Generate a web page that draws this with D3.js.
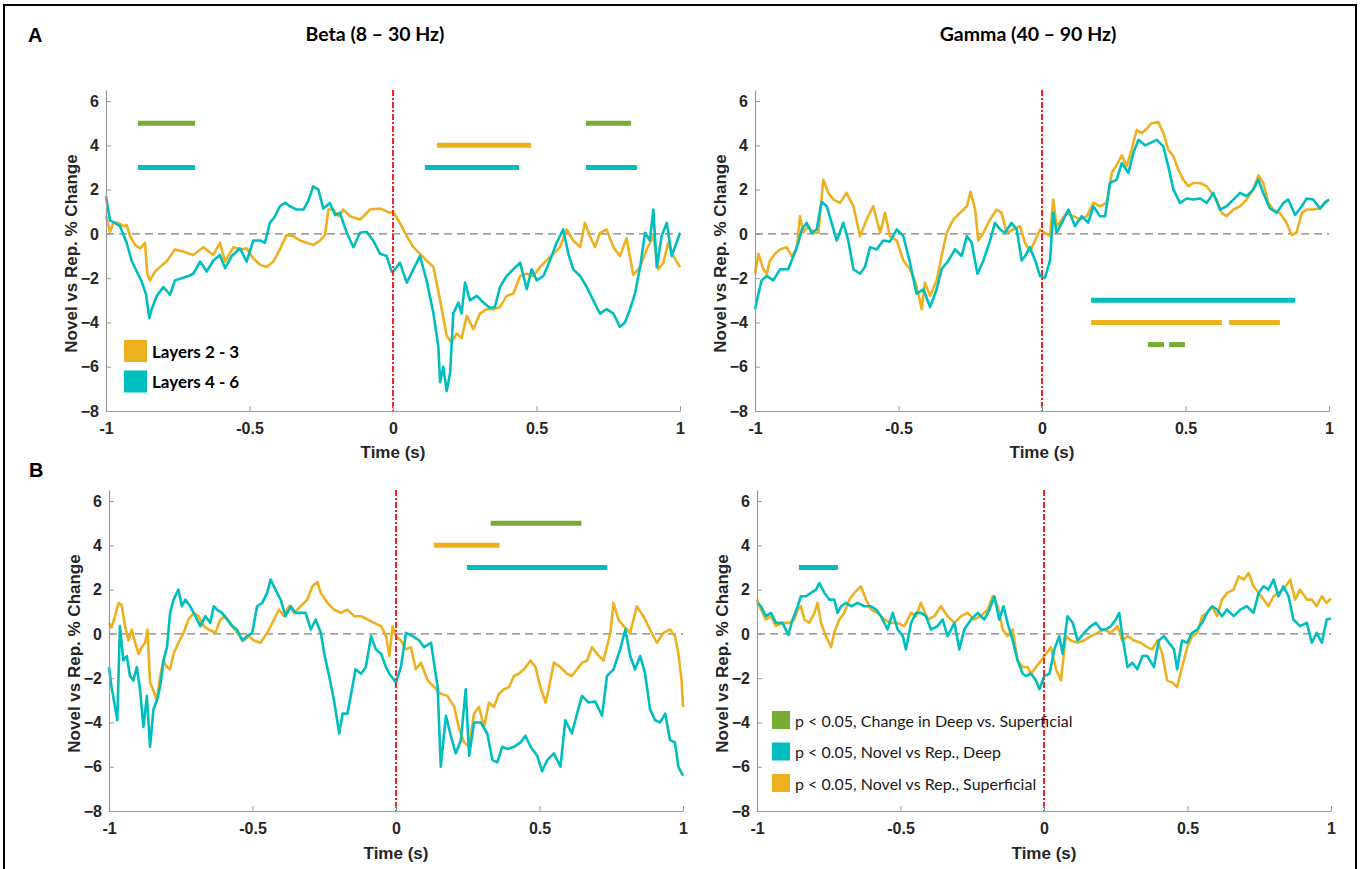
<!DOCTYPE html>
<html>
<head>
<meta charset="utf-8">
<script src="https://cdn.jsdelivr.net/npm/d3@7"></script>
<style>
  html, body { margin: 0; padding: 0; background: #fff; }
  svg { display: block; }
</style>
</head>
<body>
<svg id="fig" width="1363" height="869"></svg>
<script>
// ---- data: [time (s), % change] ----
const timeTicks = [-1, -0.5, 0, 0.5, 1];
const timeTickLabels = ["-1", "-0.5", "0", "0.5", "1"];
const valueTicks = [-8, -6, -4, -2, 0, 2, 4, 6];

const betaA_sup = [[-1.0,0.8],[-0.986,0.1],[-0.974,0.5],[-0.957,0.5],[-0.94,0.35],[-0.928,0.4],[-0.916,-0.1],[-0.899,-0.5],[-0.881,-0.65],[-0.864,-0.4],[-0.856,-1.8],[-0.847,-2.1],[-0.829,-1.7],[-0.812,-1.5],[-0.789,-1.25],[-0.76,-0.7],[-0.731,-0.8],[-0.696,-0.95],[-0.661,-0.6],[-0.626,-0.95],[-0.603,-0.4],[-0.585,-1.25],[-0.556,-0.6],[-0.527,-0.7],[-0.51,-0.65],[-0.487,-1.1],[-0.463,-1.4],[-0.44,-1.5],[-0.417,-1.25],[-0.394,-0.7],[-0.371,-0.05],[-0.347,-0.1],[-0.324,-0.3],[-0.301,-0.4],[-0.278,-0.5],[-0.254,-0.3],[-0.237,-0.05],[-0.225,1.1],[-0.208,1.1],[-0.19,0.8],[-0.173,1.1],[-0.15,0.8],[-0.115,0.65],[-0.08,1.1],[-0.045,1.15],[-0.01,0.95],[0,1.0],[0.024,0.5],[0.048,-0.1],[0.071,-0.6],[0.094,-0.9],[0.117,-1.2],[0.141,-1.5],[0.164,-3.0],[0.187,-4.6],[0.204,-4.9],[0.222,-4.5],[0.239,-4.7],[0.257,-3.7],[0.28,-4.3],[0.303,-3.6],[0.326,-3.4],[0.35,-3.4],[0.373,-3.3],[0.396,-2.8],[0.419,-2.7],[0.443,-1.9],[0.466,-1.8],[0.489,-1.9],[0.512,-1.5],[0.535,-1.2],[0.559,-0.9],[0.582,-0.6],[0.605,0.2],[0.628,-0.3],[0.652,-0.6],[0.669,0.5],[0.686,-0.1],[0.704,-0.6],[0.721,0.05],[0.744,0.2],[0.768,-0.6],[0.791,-1.0],[0.814,-0.2],[0.837,-1.85],[0.861,-1.5],[0.884,-0.7],[0.907,-0.1],[0.925,-1.6],[0.942,-1.3],[0.959,-0.4],[0.977,-1.0],[1.0,-1.5]];

const betaA_deep = [[-1.0,1.7],[-0.986,0.6],[-0.969,0.5],[-0.951,0.35],[-0.928,-0.4],[-0.911,-1.2],[-0.893,-1.7],[-0.876,-2.15],[-0.861,-2.7],[-0.849,-3.8],[-0.841,-3.4],[-0.823,-2.8],[-0.8,-2.4],[-0.777,-2.75],[-0.76,-2.1],[-0.736,-2.0],[-0.713,-1.9],[-0.696,-1.8],[-0.672,-1.25],[-0.649,-1.7],[-0.626,-1.2],[-0.603,-0.95],[-0.585,-1.55],[-0.562,-1.0],[-0.533,-0.65],[-0.51,-1.25],[-0.487,-0.3],[-0.463,-0.3],[-0.446,-0.4],[-0.429,0.5],[-0.411,0.8],[-0.394,1.25],[-0.376,1.4],[-0.359,1.25],[-0.336,1.1],[-0.312,1.1],[-0.295,1.5],[-0.278,2.15],[-0.26,2.0],[-0.243,1.15],[-0.22,1.4],[-0.202,0.85],[-0.185,0.95],[-0.161,0.05],[-0.138,-0.6],[-0.115,0.05],[-0.092,0.1],[-0.069,-0.3],[-0.045,-0.9],[-0.022,-1.0],[-0.005,-1.7],[0.0,-1.7],[0.024,-1.3],[0.048,-2.2],[0.071,-1.6],[0.094,-1.0],[0.117,-2.1],[0.141,-3.6],[0.158,-5.1],[0.164,-6.7],[0.175,-6.0],[0.187,-7.1],[0.199,-6.3],[0.21,-3.6],[0.228,-3.1],[0.239,-3.6],[0.251,-2.2],[0.268,-3.0],[0.292,-2.8],[0.315,-3.1],[0.338,-3.35],[0.355,-3.3],[0.373,-2.4],[0.396,-1.9],[0.419,-1.6],[0.443,-1.3],[0.466,-2.5],[0.483,-1.6],[0.501,-2.1],[0.524,-1.9],[0.547,-1.2],[0.57,-0.4],[0.593,0.2],[0.611,-0.9],[0.628,-1.6],[0.652,-1.9],[0.675,-2.4],[0.698,-3.0],[0.721,-3.6],[0.744,-3.4],[0.768,-3.6],[0.791,-4.2],[0.808,-4.0],[0.826,-3.4],[0.843,-2.7],[0.861,-1.5],[0.878,0.05],[0.895,-0.3],[0.907,1.1],[0.919,-1.5],[0.936,-0.1],[0.954,0.5],[0.971,-1.0],[0.988,-0.4],[1.0,0.05]];

const gammaA_sup = [[-1.0,-1.8],[-0.988,-0.9],[-0.971,-1.6],[-0.959,-1.8],[-0.948,-1.2],[-0.93,-0.9],[-0.913,-0.7],[-0.89,-0.6],[-0.872,-1.0],[-0.855,-0.7],[-0.843,0.8],[-0.832,0.05],[-0.814,0.35],[-0.797,0.05],[-0.779,0.05],[-0.762,2.45],[-0.744,1.85],[-0.727,1.55],[-0.704,1.4],[-0.681,1.85],[-0.657,1.25],[-0.634,-0.1],[-0.611,0.65],[-0.588,1.25],[-0.564,0.05],[-0.547,0.95],[-0.53,-0.1],[-0.506,-0.3],[-0.483,-1.2],[-0.46,-1.6],[-0.443,-2.1],[-0.431,-2.7],[-0.419,-3.4],[-0.408,-2.2],[-0.39,-2.8],[-0.367,-2.1],[-0.35,-1.0],[-0.332,0.05],[-0.309,0.65],[-0.286,0.95],[-0.262,1.25],[-0.249,1.9],[-0.233,1.1],[-0.222,-0.3],[-0.204,0.05],[-0.181,0.65],[-0.158,1.1],[-0.141,0.95],[-0.123,0.05],[-0.1,0.2],[-0.077,0.35],[-0.059,-0.4],[-0.042,-0.8],[-0.024,-0.3],[-0.007,0.2],[0.01,0.05],[0.028,-0.1],[0.039,1.55],[0.051,0.35],[0.069,0.65],[0.086,0.95],[0.109,0.8],[0.132,0.65],[0.156,0.8],[0.179,1.4],[0.202,1.25],[0.225,1.4],[0.243,2.75],[0.26,3.1],[0.278,3.55],[0.295,3.05],[0.312,3.8],[0.33,4.7],[0.347,4.55],[0.365,4.75],[0.382,5.0],[0.405,5.05],[0.423,4.55],[0.44,3.8],[0.458,3.5],[0.475,2.9],[0.492,2.45],[0.51,2.15],[0.527,2.3],[0.551,2.3],[0.574,2.15],[0.591,1.85],[0.609,1.55],[0.626,0.95],[0.643,0.8],[0.667,1.1],[0.69,1.25],[0.713,1.55],[0.736,2.0],[0.754,2.65],[0.771,2.3],[0.789,1.4],[0.806,1.1],[0.829,0.95],[0.852,0.5],[0.87,-0.05],[0.887,0.05],[0.905,0.95],[0.922,1.1],[0.945,1.1],[0.969,1.15],[0.986,1.45],[1.0,1.55]];

const gammaA_deep = [[-1.0,-3.4],[-0.988,-2.7],[-0.977,-2.1],[-0.959,-1.9],[-0.936,-2.1],[-0.913,-1.6],[-0.884,-1.6],[-0.866,-1.0],[-0.849,-0.4],[-0.837,0.2],[-0.82,0.5],[-0.803,0.05],[-0.785,0.2],[-0.768,1.45],[-0.75,1.25],[-0.733,0.5],[-0.715,-0.3],[-0.692,0.5],[-0.675,-0.3],[-0.657,-1.6],[-0.634,-1.8],[-0.617,-1.5],[-0.599,-0.6],[-0.576,-0.7],[-0.553,-0.3],[-0.53,-0.35],[-0.506,0.2],[-0.483,-0.1],[-0.46,-1.3],[-0.437,-2.7],[-0.413,-2.5],[-0.39,-3.3],[-0.367,-2.5],[-0.35,-1.6],[-0.326,-1.2],[-0.303,-0.7],[-0.28,-1.0],[-0.262,-0.1],[-0.245,-0.4],[-0.225,-1.8],[-0.204,-1.2],[-0.181,-0.3],[-0.164,0.5],[-0.146,0.2],[-0.129,0.05],[-0.106,0.5],[-0.088,0.2],[-0.071,-1.2],[-0.059,-1.0],[-0.042,-0.6],[-0.024,-1.2],[-0.007,-1.9],[0.01,-2.0],[0.028,-1.2],[0.039,0.95],[0.051,0.05],[0.069,0.5],[0.092,1.1],[0.115,0.35],[0.138,0.8],[0.161,0.5],[0.179,1.25],[0.202,0.8],[0.22,0.8],[0.237,2.3],[0.26,2.45],[0.278,3.2],[0.301,2.75],[0.318,3.65],[0.336,4.25],[0.359,4.0],[0.376,4.1],[0.4,4.25],[0.423,3.95],[0.44,3.05],[0.458,2.0],[0.481,1.4],[0.504,1.6],[0.527,1.55],[0.551,1.6],[0.574,1.4],[0.597,1.85],[0.62,1.1],[0.643,1.25],[0.667,1.55],[0.69,1.85],[0.713,1.7],[0.736,2.0],[0.754,2.45],[0.771,1.85],[0.794,1.15],[0.818,0.95],[0.841,1.4],[0.858,1.55],[0.882,0.85],[0.905,1.25],[0.922,1.6],[0.945,1.55],[0.969,1.15],[0.986,1.4],[1.0,1.55]];

const betaB_sup = [[-1.0,0.5],[-0.991,0.3],[-0.979,0.8],[-0.967,1.4],[-0.956,1.3],[-0.944,0.35],[-0.932,-0.3],[-0.921,0.2],[-0.909,-0.4],[-0.897,-0.9],[-0.886,-0.6],[-0.874,-0.4],[-0.866,0.2],[-0.857,-2.2],[-0.847,-2.5],[-0.833,-3.0],[-0.822,-1.9],[-0.81,-1.2],[-0.798,-1.5],[-0.787,-1.6],[-0.775,-0.9],[-0.758,-0.4],[-0.74,0.05],[-0.723,0.65],[-0.705,0.95],[-0.688,0.8],[-0.67,0.35],[-0.653,0.2],[-0.629,0.05],[-0.612,0.65],[-0.594,0.8],[-0.577,0.5],[-0.554,0.05],[-0.53,-0.3],[-0.513,-0.1],[-0.495,-0.3],[-0.472,-0.4],[-0.449,0.05],[-0.425,0.65],[-0.408,1.1],[-0.39,0.8],[-0.373,1.25],[-0.355,0.95],[-0.332,1.25],[-0.309,1.55],[-0.291,2.15],[-0.274,2.35],[-0.262,1.85],[-0.239,1.4],[-0.216,1.1],[-0.192,0.95],[-0.169,1.1],[-0.146,0.8],[-0.122,0.8],[-0.099,0.65],[-0.076,0.5],[-0.052,0.35],[-0.035,-0.1],[-0.023,-1.0],[-0.012,0.35],[0,-0.1],[0.017,-0.3],[0.035,-0.7],[0.052,-0.6],[0.069,-1.6],[0.087,-1.3],[0.11,-2.1],[0.133,-2.4],[0.156,-2.7],[0.179,-2.8],[0.203,-3.3],[0.22,-4.3],[0.237,-4.9],[0.255,-5.1],[0.272,-3.6],[0.289,-3.3],[0.307,-4.2],[0.324,-3.1],[0.341,-3.3],[0.359,-2.7],[0.376,-2.5],[0.394,-2.4],[0.411,-1.9],[0.428,-1.8],[0.446,-1.6],[0.469,-1.2],[0.486,-1.5],[0.503,-2.4],[0.521,-3.1],[0.532,-2.5],[0.55,-1.3],[0.573,-1.5],[0.596,-1.8],[0.613,-1.9],[0.631,-1.6],[0.648,-1.3],[0.666,-1.2],[0.683,-0.6],[0.7,-0.9],[0.723,-1.2],[0.747,0.05],[0.758,1.4],[0.775,0.65],[0.793,0.35],[0.816,0.05],[0.839,1.25],[0.862,0.8],[0.885,0.2],[0.909,-0.4],[0.932,0.05],[0.955,0.2],[0.972,-0.1],[0.984,-0.9],[0.995,-2.1],[1.0,-3.3]];

const betaB_deep = [[-1.0,-1.5],[-0.991,-2.4],[-0.979,-3.3],[-0.971,-3.9],[-0.962,0.35],[-0.95,-1.2],[-0.938,-1.0],[-0.927,-1.9],[-0.915,-2.1],[-0.903,-1.5],[-0.892,-2.5],[-0.88,-4.2],[-0.868,-2.8],[-0.857,-5.1],[-0.845,-3.4],[-0.833,-3.0],[-0.822,-2.4],[-0.81,-1.2],[-0.798,-0.6],[-0.787,0.95],[-0.775,1.55],[-0.758,2.0],[-0.746,1.25],[-0.734,1.55],[-0.717,1.25],[-0.705,0.95],[-0.693,0.65],[-0.682,0.35],[-0.664,0.8],[-0.647,0.5],[-0.635,1.25],[-0.624,1.1],[-0.606,0.95],[-0.589,0.65],[-0.571,0.35],[-0.554,0.2],[-0.536,-0.3],[-0.519,-0.1],[-0.501,0.05],[-0.484,1.25],[-0.466,1.4],[-0.449,1.85],[-0.437,2.45],[-0.42,2.0],[-0.402,1.55],[-0.385,0.8],[-0.367,1.25],[-0.35,0.95],[-0.332,0.95],[-0.315,0.95],[-0.297,0.2],[-0.28,0.65],[-0.262,0.05],[-0.25,-0.9],[-0.233,-1.9],[-0.216,-3.0],[-0.198,-4.5],[-0.186,-3.6],[-0.169,-3.6],[-0.152,-2.4],[-0.141,-1.6],[-0.122,-1.8],[-0.105,-1.5],[-0.087,-0.1],[-0.07,-0.7],[-0.052,-0.9],[-0.035,-1.5],[-0.023,-1.8],[-0.006,-2.1],[0,-2.2],[0.017,-1.5],[0.035,0.05],[0.058,-0.1],[0.081,-0.3],[0.098,-0.6],[0.122,-0.4],[0.145,-2.4],[0.156,-6.0],[0.174,-3.7],[0.191,-4.6],[0.208,-5.4],[0.226,-4.8],[0.243,-2.5],[0.255,-5.5],[0.272,-4.0],[0.295,-4.0],[0.318,-4.5],[0.336,-5.7],[0.353,-5.8],[0.37,-5.1],[0.388,-5.2],[0.411,-5.1],[0.434,-4.9],[0.451,-4.6],[0.469,-5.1],[0.492,-5.5],[0.509,-6.2],[0.527,-5.7],[0.55,-5.4],[0.573,-6.0],[0.59,-3.9],[0.613,-4.5],[0.631,-3.6],[0.648,-2.8],[0.671,-3.1],[0.694,-3.05],[0.718,-3.7],[0.735,-1.9],[0.758,-1.6],[0.781,-0.7],[0.799,0.2],[0.816,-1.0],[0.833,-1.6],[0.851,-1.0],[0.868,-1.8],[0.885,-3.4],[0.903,-3.9],[0.92,-4.0],[0.938,-3.6],[0.955,-4.8],[0.972,-4.9],[0.984,-6.0],[1.0,-6.4]];

const gammaB_sup = [[-1.0,1.55],[-0.986,1.1],[-0.969,0.65],[-0.951,0.8],[-0.934,0.35],[-0.911,0.5],[-0.887,0.5],[-0.87,0.65],[-0.858,1.1],[-0.847,1.25],[-0.835,0.65],[-0.818,0.5],[-0.8,0.95],[-0.789,1.4],[-0.777,0.5],[-0.76,-0.1],[-0.742,-0.6],[-0.731,0.05],[-0.713,0.65],[-0.696,0.95],[-0.678,1.55],[-0.661,1.85],[-0.638,2.15],[-0.62,1.55],[-0.603,1.1],[-0.58,0.95],[-0.556,0.65],[-0.533,0.5],[-0.51,0.5],[-0.487,0.35],[-0.463,0.95],[-0.446,0.8],[-0.429,1.4],[-0.405,0.65],[-0.382,0.8],[-0.359,1.25],[-0.336,0.8],[-0.312,0.5],[-0.289,0.8],[-0.266,0.95],[-0.243,0.65],[-0.22,0.8],[-0.196,1.1],[-0.179,1.7],[-0.161,1.25],[-0.144,0.2],[-0.127,-0.1],[-0.109,0.2],[-0.092,-1.2],[-0.074,-1.5],[-0.057,-1.5],[-0.045,-1.8],[-0.028,-1.5],[-0.01,-1.2],[0.007,-0.9],[0.024,-0.6],[0.042,-1.6],[0.059,-2.1],[0.076,-0.1],[0.094,-0.3],[0.117,-0.4],[0.14,-0.3],[0.163,-0.1],[0.186,0.05],[0.209,0.2],[0.233,0.05],[0.256,0.35],[0.273,-0.3],[0.291,-0.1],[0.314,-0.3],[0.337,-0.4],[0.36,-0.6],[0.377,-0.7],[0.395,-0.3],[0.412,-0.9],[0.429,-2.1],[0.447,-2.2],[0.464,-2.4],[0.481,-1.5],[0.499,-0.6],[0.516,-0.1],[0.534,0.05],[0.551,0.8],[0.568,0.95],[0.586,1.25],[0.603,0.8],[0.62,1.55],[0.638,1.85],[0.661,2.0],[0.678,2.6],[0.696,2.45],[0.713,2.75],[0.73,2.15],[0.748,1.85],[0.765,1.55],[0.782,1.25],[0.8,1.7],[0.817,1.85],[0.834,2.0],[0.858,2.45],[0.875,1.55],[0.892,2.0],[0.916,1.55],[0.933,1.55],[0.95,1.25],[0.968,1.7],[0.985,1.4],[1.0,1.6]];

const gammaB_deep = [[-1.0,1.4],[-0.986,1.25],[-0.969,0.8],[-0.951,0.95],[-0.934,0.5],[-0.911,0.5],[-0.891,-0.05],[-0.876,0.65],[-0.858,1.25],[-0.847,1.7],[-0.829,1.7],[-0.812,1.85],[-0.794,2.0],[-0.783,2.3],[-0.765,1.85],[-0.748,1.55],[-0.731,1.55],[-0.719,0.95],[-0.707,1.25],[-0.69,1.4],[-0.672,1.25],[-0.649,1.4],[-0.626,1.25],[-0.603,1.25],[-0.585,1.1],[-0.568,0.8],[-0.545,0.2],[-0.527,0.95],[-0.51,0.2],[-0.492,-0.1],[-0.481,-0.7],[-0.463,0.5],[-0.446,0.95],[-0.429,0.95],[-0.411,0.8],[-0.394,0.2],[-0.371,0.35],[-0.353,0.65],[-0.336,-0.1],[-0.312,0.5],[-0.295,-0.7],[-0.278,0.2],[-0.254,0.65],[-0.231,0.95],[-0.208,0.65],[-0.19,1.1],[-0.173,1.7],[-0.156,0.65],[-0.141,1.25],[-0.127,0.5],[-0.109,-0.3],[-0.092,-1.2],[-0.074,-1.8],[-0.063,-1.9],[-0.045,-1.8],[-0.028,-2.1],[-0.016,-2.5],[0.001,-1.9],[0.019,-1.8],[0.036,-0.7],[0.053,-0.1],[0.065,-0.9],[0.082,0.8],[0.1,0.5],[0.117,-0.3],[0.14,0.05],[0.163,0.35],[0.181,0.5],[0.198,0.2],[0.215,0.2],[0.233,0.35],[0.25,0.65],[0.262,0.95],[0.273,-0.1],[0.291,-1.5],[0.308,-1.3],[0.325,-1.6],[0.343,-1.0],[0.36,-1.0],[0.383,-1.5],[0.4,-0.3],[0.418,-0.1],[0.435,-0.4],[0.453,-0.7],[0.464,-1.6],[0.481,-0.3],[0.499,-0.4],[0.516,0.05],[0.534,0.2],[0.551,0.5],[0.568,0.95],[0.586,1.25],[0.603,1.1],[0.62,0.8],[0.638,1.1],[0.661,0.8],[0.684,1.1],[0.707,1.25],[0.73,0.95],[0.748,1.85],[0.765,2.15],[0.782,2.0],[0.8,2.45],[0.817,1.7],[0.834,2.15],[0.852,1.7],[0.869,0.65],[0.892,0.35],[0.916,0.5],[0.933,-0.4],[0.95,0.05],[0.968,-0.4],[0.985,0.65],[1.0,0.7]];

// significance windows: [kind, level, start (s), end (s)]
const betaA_sig = [["change",5,-0.889,-0.690],["deep",3,-0.889,-0.690],["sup",4,0.153,0.481],["deep",3,0.111,0.439],["change",5,0.672,0.829],["deep",3,0.672,0.850]];
const gammaA_sig = [["deep",-3,0.171,0.882],["sup",-4,0.171,0.627],["sup",-4,0.652,0.829],["change",-5,0.369,0.425],["change",-5,0.443,0.498]];
const betaB_sig = [["change",5,0.330,0.646],["sup",4,0.132,0.361],["deep",3,0.247,0.736]];
const gammaB_sig = [["deep",3,-0.854,-0.718]];

const layerLegend = ["Layers 2 - 3", "Layers 4 - 6"];
const sigLegend = [["change","p < 0.05, Change in Deep vs. Superficial"],["deep","p < 0.05, Novel vs Rep., Deep"],["sup","p < 0.05, Novel vs Rep., Superficial"]];

// ---- styling ----
const colors = { sup: "#EDB120", deep: "#00BEBE", change: "#77AC30" };
const axisFont = "'Liberation Sans', Arial, Helvetica, sans-serif";
const labelFont = "Lato, 'Open Sans', sans-serif";

const svg = d3.select("#fig");

// outer frame
svg.append("rect")
  .attr("x", 4).attr("y", 5).attr("width", 1352).attr("height", 870)
  .attr("fill", "none").attr("stroke", "#000").attr("stroke-width", 2);

const panels = [
  { sup: betaA_sup, deep: betaA_deep, sig: betaA_sig, x: [106, 680], y: [411, 90], timeY: 452 },
  { sup: gammaA_sup, deep: gammaA_deep, sig: gammaA_sig, x: [755, 1329], y: [411, 90], timeY: 452 },
  { sup: betaB_sup, deep: betaB_deep, sig: betaB_sig, x: [109, 683], y: [811, 490], timeY: 853 },
  { sup: gammaB_sup, deep: gammaB_deep, sig: gammaB_sig, x: [757, 1331], y: [811, 490], timeY: 853 }
];

panels.forEach((p, i) => {
  const xs = d3.scaleLinear().domain([-1, 1]).range(p.x);
  const ys = d3.scaleLinear().domain([-8, 6.5]).range(p.y);
  const g = svg.append("g");

  // zero reference
  g.append("line")
    .attr("x1", xs(-1)).attr("x2", xs(1)).attr("y1", ys(0)).attr("y2", ys(0))
    .attr("stroke", "#808080").attr("stroke-width", 1.3).attr("stroke-dasharray", "8,5");

  const line = d3.line().x(d => xs(d[0])).y(d => ys(d[1]));
  g.append("path").datum(p.sup).attr("d", line)
    .attr("fill", "none").attr("stroke", colors.sup).attr("stroke-width", 2.6).attr("stroke-linejoin", "round");
  g.append("path").datum(p.deep).attr("d", line)
    .attr("fill", "none").attr("stroke", colors.deep).attr("stroke-width", 2.6).attr("stroke-linejoin", "round");

  // stimulus onset
  g.append("line")
    .attr("x1", xs(0)).attr("x2", xs(0)).attr("y1", ys(6.5)).attr("y2", ys(-8))
    .attr("stroke", "#FF2020").attr("stroke-width", 2).attr("stroke-dasharray", "6,2,2,2");

  // significance bars
  g.selectAll(".sig").data(p.sig).join("line")
    .attr("x1", d => xs(d[2])).attr("x2", d => xs(d[3]))
    .attr("y1", d => ys(d[1])).attr("y2", d => ys(d[1]))
    .attr("stroke", d => colors[d[0]]).attr("stroke-width", 5);

  // axes
  const yAxis = d3.axisLeft(ys).tickValues(valueTicks).tickSizeInner(-5).tickSizeOuter(0).tickPadding(7);
  const xAxis = d3.axisBottom(xs).tickValues(timeTicks).tickFormat((d, k) => timeTickLabels[k])
    .tickSizeInner(-5).tickSizeOuter(0).tickPadding(12);
  const ya = g.append("g").attr("transform", `translate(${p.x[0]},0)`).call(yAxis);
  const xa = g.append("g").attr("transform", `translate(0,${p.y[0]})`).call(xAxis);
  [ya, xa].forEach(a => {
    a.select(".domain").attr("stroke", "#9a9a9a").attr("stroke-width", 1.2);
    a.selectAll(".tick line").attr("stroke", "#9a9a9a");
    a.selectAll(".tick text").attr("fill", "#262626")
      .style("font-family", axisFont).style("font-weight", "bold").style("font-size", "16px");
  });

  g.append("text")
    .attr("x", xs(0)).attr("y", p.timeY)
    .attr("text-anchor", "middle").attr("dominant-baseline", "central")
    .attr("fill", "#262626").style("font-family", axisFont).style("font-weight", "bold").style("font-size", "17px")
    .text("Time (s)");

  g.append("text")
    .attr("transform", `translate(${p.x[0] - 35},${(p.y[0] + p.y[1]) / 2 + 3}) rotate(-90)`)
    .attr("text-anchor", "middle").attr("dominant-baseline", "central")
    .attr("fill", "#262626").style("font-family", axisFont).style("font-weight", "bold").style("font-size", "17px")
    .text("Novel vs Rep. % Change");
});

// panel letters and band titles
svg.append("text").attr("x", 28).attr("y", 42).text("A")
  .style("font-family", axisFont).style("font-weight", "bold").style("font-size", "20px");
svg.append("text").attr("x", 29).attr("y", 477).text("B")
  .style("font-family", axisFont).style("font-weight", "bold").style("font-size", "20px");
svg.append("text").attr("x", 375).attr("y", 33).attr("text-anchor", "middle").attr("dominant-baseline", "central")
  .style("font-family", labelFont).style("font-weight", "bold").style("font-size", "19.5px").text("Beta (8 – 30 Hz)");
svg.append("text").attr("x", 1028).attr("y", 33).attr("text-anchor", "middle").attr("dominant-baseline", "central")
  .style("font-family", labelFont).style("font-weight", "bold").style("font-size", "19.5px").text("Gamma (40 – 90 Hz)");

// layer legend
const lg = svg.append("g");
layerLegend.forEach((t, k) => {
  lg.append("rect").attr("x", 124).attr("y", 340 + k * 30.5).attr("width", 23).attr("height", 22)
    .attr("fill", k === 0 ? colors.sup : colors.deep);
  lg.append("text").attr("x", 152).attr("y", 351 + k * 30.5).attr("dominant-baseline", "central")
    .style("font-family", labelFont).style("font-weight", "bold").style("font-size", "17px").text(t);
});

// significance legend
const sg = svg.append("g");
sigLegend.forEach((d, k) => {
  sg.append("rect").attr("x", 772).attr("y", 711 + k * 31.5).attr("width", 18).attr("height", 18)
    .attr("fill", colors[d[0]]);
  sg.append("text").attr("x", 795).attr("y", 720 + k * 31.5).attr("dominant-baseline", "central")
    .style("font-family", labelFont).style("font-size", "16px").attr("fill", "#1a1a1a").text(d[1]);
});
</script>
</body>
</html>
